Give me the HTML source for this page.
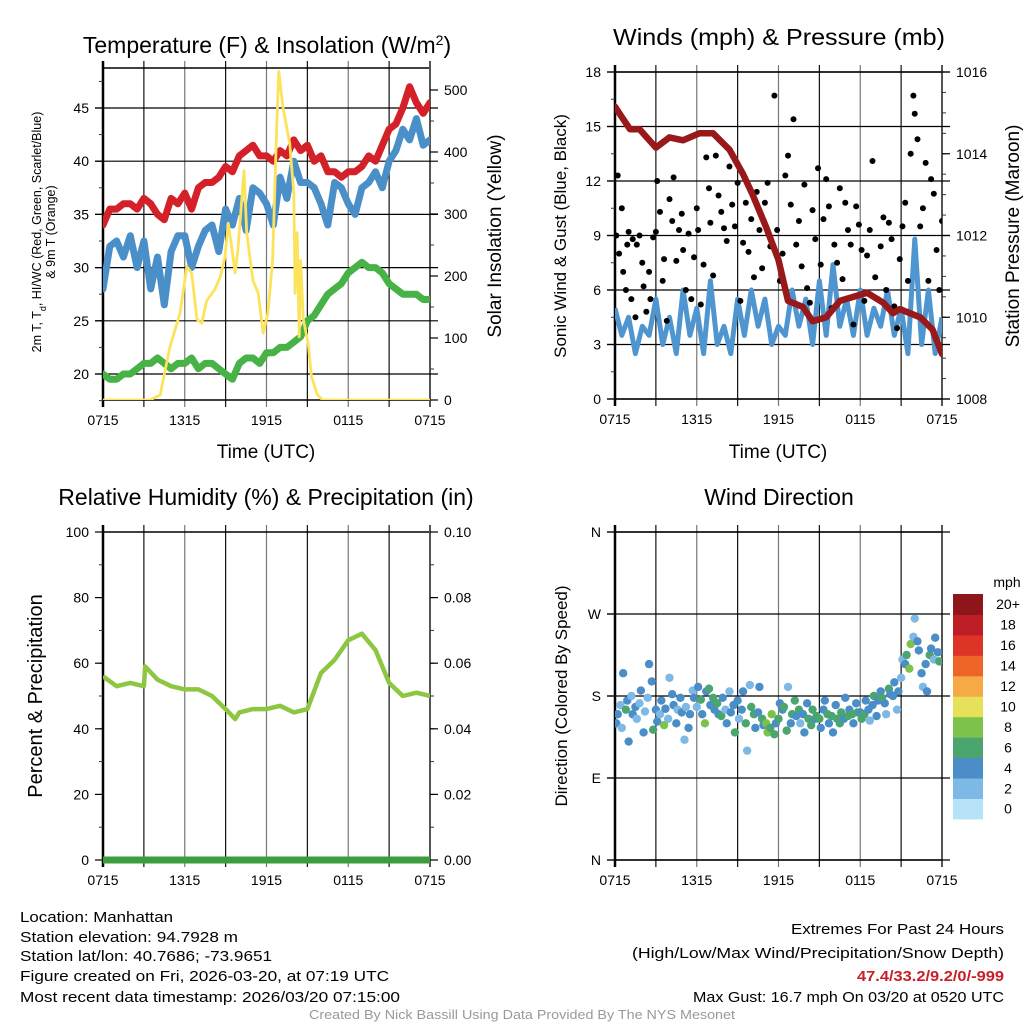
<!DOCTYPE html>
<html><head><meta charset="utf-8"><style>
html,body{margin:0;padding:0;background:#fff}
svg{display:block;font-family:"Liberation Sans",sans-serif}
</style></head><body>
<svg id="root" width="1024" height="1024" viewBox="0 0 1024 1024" xmlns="http://www.w3.org/2000/svg">
<rect width="1024" height="1024" fill="#fff"/>
<defs>
<clipPath id="c1"><rect x="103" y="68" width="327" height="332"/></clipPath>
<clipPath id="c2"><rect x="615" y="72" width="327" height="327"/></clipPath>
<clipPath id="c3"><rect x="103" y="532" width="327" height="328"/></clipPath>
<clipPath id="c4"><rect x="615" y="532" width="327" height="328"/></clipPath>
</defs>
<text x="267" y="53" font-size="23" text-anchor="middle">Temperature (F) &amp; Insolation (W/m<tspan baseline-shift="super" font-size="14">2</tspan>)</text>
<text x="779" y="45" font-size="23" text-anchor="middle" textLength="332" lengthAdjust="spacingAndGlyphs">Winds (mph) &amp; Pressure (mb)</text>
<text x="266" y="505" font-size="23" text-anchor="middle">Relative Humidity (%) &amp; Precipitation (in)</text>
<text x="779" y="505" font-size="23" text-anchor="middle">Wind Direction</text>

<text transform="translate(41,232) rotate(-90)" font-size="12.5" text-anchor="middle">2m T, T<tspan baseline-shift="sub" font-size="9">d</tspan>, HI/WC (Red, Green, Scarlet/Blue)</text>
<text transform="translate(55,232) rotate(-90)" font-size="12.5" text-anchor="middle">&amp; 9m T (Orange)</text>
<text transform="translate(501,236) rotate(-90)" font-size="19" text-anchor="middle">Solar Insolation (Yellow)</text>
<text transform="translate(566,236) rotate(-90)" font-size="17" text-anchor="middle">Sonic Wind &amp; Gust (Blue, Black)</text>
<text transform="translate(1019,236) rotate(-90)" font-size="19" text-anchor="middle">Station Pressure (Maroon)</text>
<text transform="translate(42,696) rotate(-90)" font-size="20" text-anchor="middle">Percent &amp; Precipitation</text>
<text transform="translate(567,696) rotate(-90)" font-size="17" text-anchor="middle">Direction (Colored By Speed)</text>
<text x="266" y="458" font-size="19" text-anchor="middle">Time (UTC)</text>
<text x="778" y="458" font-size="19" text-anchor="middle">Time (UTC)</text>

<g font-size="15">
<text x="20" y="922" textLength="153" lengthAdjust="spacingAndGlyphs">Location: Manhattan</text>
<text x="20" y="942" textLength="218" lengthAdjust="spacingAndGlyphs">Station elevation: 94.7928 m</text>
<text x="20" y="961" textLength="252" lengthAdjust="spacingAndGlyphs">Station lat/lon: 40.7686; -73.9651</text>
<text x="20" y="981" textLength="369" lengthAdjust="spacingAndGlyphs">Figure created on Fri, 2026-03-20, at 07:19 UTC</text>
<text x="20" y="1002" textLength="380" lengthAdjust="spacingAndGlyphs">Most recent data timestamp: 2026/03/20 07:15:00</text>
</g>
<g font-size="15" text-anchor="end">
<text x="1004" y="934" textLength="213" lengthAdjust="spacingAndGlyphs">Extremes For Past 24 Hours</text>
<text x="1004" y="958" textLength="372" lengthAdjust="spacingAndGlyphs">(High/Low/Max Wind/Precipitation/Snow Depth)</text>
<text x="1004" y="981" fill="#c8202a" font-weight="bold" textLength="147" lengthAdjust="spacingAndGlyphs">47.4/33.2/9.2/0/-999</text>
<text x="1004" y="1002" textLength="311" lengthAdjust="spacingAndGlyphs">Max Gust: 16.7 mph On 03/20 at 0520 UTC</text>
</g>
<text x="522" y="1019" font-size="12.5" fill="#999" text-anchor="middle" textLength="426" lengthAdjust="spacingAndGlyphs">Created By Nick Bassill Using Data Provided By The NYS Mesonet</text>
<g id="charts"></g>
</svg>
<script>
// ---- data ----
const timeLabels = ["0715","1315","1915","0115","0715"];
const tempTicks = [20,25,30,35,40,45];
const solarTicks = [0,100,200,300,400,500];
const windTicks = [0,3,6,9,12,15,18];
const presTicks = [1008,1010,1012,1014,1016];
const rhTicks = [0,20,40,60,80,100];
const precipTicks = ["0.00","0.02","0.04","0.06","0.08","0.10"];
const dirTicks = ["N","E","S","W","N"];
const speedBins = ["0","2","4","6","8","10","12","14","16","18","20+"];
const speedColors = ["#b6e3f8","#7db9e4","#4a8dc7","#4aa56f","#7cc24b","#e7e05a","#f5aa46","#ef6429","#dd3427","#bd1d24","#8e1519"];

const tempRed = [34,35.5,35.5,36,36,35.5,36.5,36,35,34.5,36.5,36,37,35.5,37.5,38,38,38.5,39.5,39,40.5,41,41.5,40.5,40.5,40,41,40.5,42,41,41.5,40,40.5,39,39,38.5,39,39,39.5,40.5,40,41.5,43,43.5,45,47,45.5,44.5,45.5];
const tempBlue = [28,32,32.5,31,33,30,32.5,28,31,26.5,31.5,33,33,30,32,33.5,34,31.5,35.5,34,36.5,33.5,37.5,37,36,34,38.5,36.5,40,38,38,37.5,36,34,38,37.5,36,35,37.5,38,39,37.5,40,41,43,42,44,41.5,42];
const tempDew = [20,19.5,19.5,20,20,20.5,21,21,21.5,21,20.5,21,21,21.5,20.5,21,21,20.5,20,19.5,21,21.5,21.5,21,22,22,22.5,22.5,23,23.5,25,25.5,26.5,27.5,28,28.5,29.5,30,30.5,30,30,29.5,28.5,28,27.5,27.5,27.5,27,27];
const solarT = [0,3.45,4.2,4.9,5.65,6.15,6.5,6.9,7.25,7.6,8.2,8.6,8.95,9.2,9.7,9.9,10.35,10.55,11,11.4,11.75,12.1,12.45,12.75,12.9,13.2,13.7,14,14.1,14.25,14.4,14.5,14.7,15.05,15.3,15.7,16.1,24];
const solarV = [0,0,8,85,140,215,205,130,124,160,178,198,230,285,205,242,370,270,193,172,108,140,225,440,530,473,414,334,172,270,102,225,130,92,38,10,0,0];

const windSpeed = [5,3.5,4.5,2.5,4,3.5,5.5,3,4.5,2.5,6,3.5,5,2.5,6.5,3,4,2.5,5.5,3.5,6,4,5.5,3,4,3.5,6,4,5.5,3,6.5,3.5,7.4,4,5.5,3.5,6,3.5,5,4,6,3.5,5,2.5,8.8,3,6,2.5,4.5];
const presT = [0,0.5,1.1,1.8,3,4,5,6.2,7.2,8.4,9.4,10.1,11.1,12,12.7,13.8,14.5,15.5,16.5,18.5,19.7,20.4,20.9,22.4,23.3,24];
const presV = [1015.15,1014.9,1014.6,1014.6,1014.15,1014.4,1014.33,1014.5,1014.5,1014.1,1013.5,1013.0,1012.2,1011.4,1010.4,1010.25,1009.9,1010,1010.4,1010.6,1010.35,1010.1,1010.2,1010,1009.7,1009.1];
const gustT = [0.1,0.2,0.3,0.5,0.6,0.8,0.9,1.0,1.2,1.3, 1.5,1.6,1.8,2.0,2.1,2.3,2.5,2.6,2.8,3.0, 3.1,3.3,3.5,3.6,3.8,4.0,4.2,4.3,4.5,4.7, 4.9,5.0,5.2,5.4,5.6,5.8,6.0,6.1,6.3,6.5, 6.7,6.9,7.0,7.2,7.4,7.6,7.8,8.0,8.2,8.4, 8.6,8.8,9.0,9.2,9.4,9.6,9.8,10.0,10.2,10.4, 10.6,10.8,11.0,11.2,11.4,11.7,11.9,12.1,12.3,12.5, 12.7,12.9,13.1,13.3,13.5,13.7,13.9,14.1,14.3,14.5, 14.7,14.9,15.1,15.3,15.5,15.7,15.9,16.1,16.3,16.5, 16.7,16.9,17.1,17.3,17.5,17.7,17.9,18.1,18.3,18.5, 18.7,18.9,19.1,19.3,19.5,19.7,19.9,20.1,20.3,20.5, 20.7,20.9,21.1,21.3,21.5,21.7,21.9,22.0,22.2,22.4, 22.6,22.8,23.0,23.2,23.4,23.6,23.8,24.0];
const gustV = [9,12.3,8,10.5,7,6,8.5,9.2,5.5,8.8, 4.5,8.5,9,7.5,6.2,4.8,7,5.5,8.9,9.2, 12,10.3,6.5,7.7,4.3,11,9.8,12.2,7.6,9.3, 10.2,8.2,6,9.1,5.5,7.8,10.5,9.3,5.2,7.4, 13.3,11.6,9.7,6.8,13.4,11.2,10.3,9.4,8.7,12.8, 10.7,9.5,11.9,5.4,8.6,10.8,8.1,9.9,6.7,11.4, 9.3,7.2,10.8,11.9,8.4,16.7,9.3,6.5,8.0,12.3, 13.4,10.7,15.4,8.5,9.8,7.3,11.8,6.1,5.3,10.4, 8.8,12.7,7.4,9.9,12.1,10.6,5.0,8.5,7.5,11.6, 6.6,10.8,9.3,8.5,4.1,10.6,9.6,8.2,5.4,7.9, 9.3,13.1,6.7,5.5,8.4,10.0,6.0,9.7,8.8,5.1, 3.9,7.7,9.5,10.8,6.5,13.5,16.7,15.7,14.3,9.5, 10.5,13.0,6.5,12.1,11.3,8.2,6.0,9.8];

const rhT = [0,1,2,3,3.1,4,5,6,7,8,9,9.7,10,11,12,13,14,15,16,17,18,19,20,21,22,23,24];
const rhV = [56,53,54,53,59,55,53,52,52,50,46,43,45,46,46,47,45,46,57,61,67,69,64,54,50,51,50];

const dirT = [0.1,0.2,0.4,0.5,0.6,0.8,0.9,1.0,1.2,1.3, 1.5,1.6,1.8,1.9,2.1,2.2,2.4,2.5,2.7,2.8, 3.0,3.1,3.3,3.4,3.6,3.7,3.9,4.0,4.2,4.3, 4.5,4.6,4.8,4.9,5.1,5.2,5.4,5.5,5.7,5.8, 6.0,6.1,6.3,6.4,6.6,6.7,6.9,7.0,7.2,7.3, 7.5,7.6,7.8,7.9,8.1,8.2,8.4,8.5,8.7,8.8, 9.0,9.1,9.3,9.4,9.6,9.7,9.9,10.0,10.2,10.3, 10.5,10.6,10.8,10.9,11.1,11.2,11.4,11.5,11.7,11.8, 12.0,12.1,12.3,12.4,12.6,12.7,12.9,13.0,13.2,13.3, 13.5,13.6,13.8,13.9,14.1,14.2,14.4,14.5,14.7,14.8, 15.0,15.1,15.3,15.4,15.6,15.7,15.9,16.0,16.2,16.3, 16.5,16.6,16.8,16.9,17.1,17.2,17.4,17.5,17.7,17.8, 18.0,18.1,18.3,18.4,18.6,18.7,18.9,19.0,19.2,19.3, 19.5,19.6,19.8,19.9,20.1,20.2,20.4,20.5,20.7,20.8, 21.0,21.1,21.3,21.4,21.6,21.7,21.9,22.0,22.2,22.3, 22.5,22.6,22.8,22.9,23.1,23.2,23.4,23.5,23.7,23.8];
const dirV = [150,160,170,145,205,165,175,130,180,160, 168,155,172,186,140,163,178,215,196,143, 165,152,160,175,148,166,155,200,182,170, 150,165,178,162,132,168,145,160,186,178, 168,190,176,160,150,185,188,170,178,165, 172,160,158,178,165,150,185,162,170,140, 175,155,165,185,150,120,192,168,160,145, 162,190,155,148,150,140,145,160,138,150, 155,172,165,168,142,190,150,160,175,158, 165,150,160,140,172,155,148,165,155,158, 155,145,165,175,160,150,158,140,170,155, 150,162,155,178,158,165,160,150,172,162, 162,155,160,175,165,153,170,180,158,175, 185,178,172,160,188,182,180,195,165,185, 200,220,215,225,210,237,245,265,240,230, 205,190,215,185,225,232,220,244,228,218];
const dirS = [5,4,3,2,4,6,4,4,2,4, 4,2,3,4,4,2,3,4,4,6, 4,4,2,4,8,4,3,2,4,4, 4,2,4,4,2,3,4,4,2,4, 2,4,6,4,8,4,6,4,6,4, 6,4,6,4,2,4,2,4,4,6, 4,2,4,4,6,2,2,6,6,4, 4,4,6,4,8,8,6,8,6,4, 6,4,4,6,6,2,4,6,6,4, 6,2,4,4,4,6,6,6,4,6, 6,4,4,4,6,4,6,4,4,6, 6,6,4,4,6,4,6,4,4,6, 4,6,6,4,4,2,4,6,4,4, 4,6,4,2,6,4,4,4,2,4, 2,2,4,6,8,8,2,2,4,4, 4,2,4,4,6,4,2,4,4,6];

// ---- helpers ----
const NS = "http://www.w3.org/2000/svg";
const root = document.getElementById("charts");
function mk(tag, parent, attrs){ const e=document.createElementNS(NS,tag); for(const k in attrs) e.setAttribute(k,attrs[k]); parent.appendChild(e); return e; }
function lin(d0,d1,r0,r1){ return v => r0 + (v-d0)*(r1-r0)/(d1-d0); }
function pathD(xs, ys, fx, fy){ let s=""; const n=Math.min(xs.length, ys.length); for(let i=0;i<n;i++){ s += (i?"L":"M")+fx(xs[i]).toFixed(1)+","+fy(ys[i]).toFixed(1); } return s; }
const halfHours = tempRed.map((_,i)=>i*0.5);

function frame(g, L, R, T, B, name){
  const fx = lin(0,24,L,R);
  for(let h=3; h<24; h+=3){
    const ln = mk("line", g, {x1:fx(h), x2:fx(h), y1:T-7, y2:B+7, stroke:(h%6===0?"#777":"#111"), "stroke-width":1.2});
    
    
  }
  const box = mk("rect", g, {x:L, y:T, width:R-L, height:B-T, fill:"none", stroke:"#000", "stroke-width":1.5});
  
  
  mk("line", g, {x1:R, x2:R, y1:T-7, y2:B+7, stroke:"#555", "stroke-width":2});
  mk("line", g, {x1:L, x2:L, y1:T-7, y2:B+7, stroke:"#000", "stroke-width":2.5});
  timeLabels.forEach((lab,i)=>{
    const t = mk("text", g, {x:fx(i*6), y:B+25, "font-size":14, "text-anchor":"middle"});
    t.textContent = lab;
    
    
  });
  return fx;
}
function yAxis(g, L, R, ticks, labels, fy, side, grid, minorStep, lo, hi){
  const x = side==="left"?L:R, dir = side==="left"?-1:1;
  if(minorStep){ for(let v=lo; v<=hi+1e-9; v+=minorStep){ const y=fy(v); mk("line", g, {x1:x, x2:x+dir*4, y1:y, y2:y, stroke:"#333", "stroke-width":1}); } }
  ticks.forEach((v,i)=>{
    const y = fy(v);
    if(grid) { const gl = mk("line", g, {x1:L-8, x2:R+8, y1:y, y2:y, stroke:"#000", "stroke-width":1.2});   }
    mk("line", g, {x1:x, x2:x+dir*8, y1:y, y2:y, stroke:"#000", "stroke-width":1.2});
    const t = mk("text", g, {x:x+dir*14, y:y+5, "font-size":14, "text-anchor":side==="left"?"end":"start"});
    t.textContent = labels[i];
    
    
  });
}

// ---- Panel 1: temperature ----
{
  const g = mk("g", root, {});  
  const L=103,R=430,T=68,B=400;
  const fx = frame(g,L,R,T,B,"temperature");
  const fyT = lin(20,45,374,108), fyS = lin(0,500,400,90);
  yAxis(g,L,R,tempTicks,tempTicks,fyT,"left",true,2.5,17.5,47.5);
  yAxis(g,L,R,solarTicks,solarTicks,fyS,"right",false,50,0,500);
  const cg = mk("g", g, {"clip-path":"url(#c1)"});
  const pr = mk("path", cg, {d:pathD(halfHours,tempRed,fx,fyT), fill:"none", stroke:"#d42029", "stroke-width":7, "stroke-linejoin":"round","stroke-linecap":"round"});
   
  const pb = mk("path", cg, {d:pathD(halfHours,tempBlue,fx,fyT), fill:"none", stroke:"#4a8fc8", "stroke-width":7, "stroke-linejoin":"round","stroke-linecap":"round"});
   
  const pg = mk("path", cg, {d:pathD(halfHours,tempDew,fx,fyT), fill:"none", stroke:"#47b246", "stroke-width":7, "stroke-linejoin":"round","stroke-linecap":"round"});
   
  const py = mk("path", cg, {d:pathD(solarT,solarV,fx,fyS), fill:"none", stroke:"#fde35b", "stroke-width":2.8, "stroke-linejoin":"round"});
   
}

// ---- Panel 2: winds & pressure ----
{
  const g = mk("g", root, {});  
  const L=615,R=942,T=72,B=399;
  const fx = frame(g,L,R,T,B,"wind");
  const fyW = lin(0,18,399,72), fyP = lin(1008,1016,399,72);
  yAxis(g,L,R,windTicks,windTicks,fyW,"left",true,1.5,0,18);
  yAxis(g,L,R,presTicks,presTicks,fyP,"right",false,0.5,1008,1016);
  const cg = mk("g", g, {"clip-path":"url(#c2)"});
  const pw = mk("path", cg, {d:pathD(halfHours,windSpeed,fx,fyW), fill:"none", stroke:"#4f96d0", "stroke-width":5, "stroke-linejoin":"round"});
   
  const n = Math.min(gustT.length, gustV.length);
  for(let i=0;i<n;i++){
    const c = mk("circle", cg, {cx:fx(gustT[i]), cy:fyW(gustV[i]), r:3, fill:"#000"});
    
    
  }
  const pp = mk("path", cg, {d:pathD(presT,presV,fx,fyP), fill:"none", stroke:"#99191b", "stroke-width":6.5, "stroke-linejoin":"round","stroke-linecap":"round"});
   
}

// ---- Panel 3: humidity ----
{
  const g = mk("g", root, {});  
  const L=103,R=430,T=532,B=860;
  const fx = frame(g,L,R,T,B,"humidity");
  const fyR = lin(0,100,860,532);
  yAxis(g,L,R,rhTicks,rhTicks,fyR,"left",false,10,0,100);
  yAxis(g,L,R,rhTicks,precipTicks,fyR,"right",false,10,0,100);
  const cg = mk("g", g, {"clip-path":"url(#c3)"});
  const ph = mk("path", cg, {d:pathD(rhT,rhV,fx,fyR), fill:"none", stroke:"#8dc640", "stroke-width":4.5, "stroke-linejoin":"round"});
   
  const pz = mk("line", g, {x1:L, x2:R, y1:fyR(0), y2:fyR(0), stroke:"#3d9c3d", "stroke-width":7});
   
}

// ---- Panel 4: wind direction ----
{
  const g = mk("g", root, {});  
  const L=615,R=942,T=532,B=860;
  const fx = frame(g,L,R,T,B,"direction");
  const fyD = lin(0,360,860,532);
  yAxis(g,L,R,[0,90,180,270,360],dirTicks,fyD,"left",true,0,0,0);
  const cg = mk("g", g, {"clip-path":"url(#c4)"});
  const n = Math.min(dirT.length, dirV.length, dirS.length);
  for(let i=0;i<n;i++){
    const bin = Math.min(10, Math.floor(dirS[i]/2));
    const c = mk("circle", cg, {cx:fx(dirT[i]), cy:fyD(dirV[i]), r:4.2, fill:speedColors[bin]});
    
    
  }
  const lg = mk("g", g, {});  
  const t0 = mk("text", lg, {x:1007, y:587, "font-size":14, "text-anchor":"middle"}); t0.textContent="mph";
   
  const top=594, h=20.45;
  speedBins.forEach((lab,i)=>{
    const j = speedBins.length-1-i;
    const r = mk("rect", lg, {x:953, y:top+j*h, width:30, height:h+0.5, fill:speedColors[i]});
     
    const t = mk("text", lg, {x:1008, y:top+j*h+h/2+5, "font-size":14, "text-anchor":"middle"}); t.textContent=lab;
     
  });
}
</script>
</body></html>
